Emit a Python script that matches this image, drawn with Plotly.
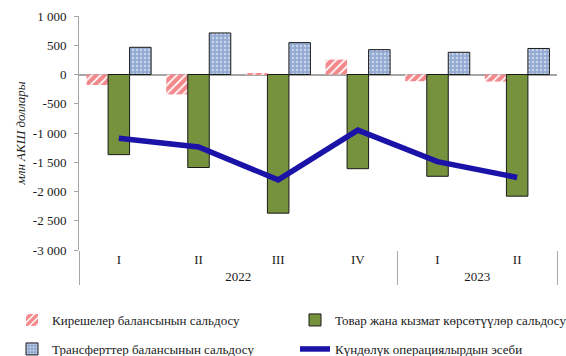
import plotly.graph_objects as go

# Quarterly balance of payments components, mln USD
years = ["2022", "2022", "2022", "2022", "2023", "2023"]
quarters = ["I", "II", "III", "IV", "I", "II"]

income_balance = [-180, -340, 15, 255, -115, -120]
goods_services_balance = [-1370, -1590, -2370, -1610, -1740, -2080]
transfers_balance = [465, 710, 545, 425, 380, 445]
current_account = [-1090, -1240, -1800, -950, -1490, -1760]

y_tickvals = [1000, 500, 0, -500, -1000, -1500, -2000, -2500, -3000]
y_ticktext = ["1 000", "500", "0", "-500", "-1 000", "-1 500", "-2 000", "-2 500", "-3 000"]

FONT = "Liberation Serif, Times New Roman, serif"
x = [years, quarters]

fig = go.Figure()
fig.add_trace(go.Bar(
    x=x, y=income_balance, name="Кирешелер балансынын сальдосу", legend="legend",
    marker=dict(color="white", line=dict(width=0),
                pattern=dict(shape="/", fgcolor="#E3121A", bgcolor="white",
                             size=6, solidity=0.7)),
))
fig.add_trace(go.Bar(
    x=x, y=goods_services_balance, name="Товар жана кызмат көрсөтүүлөр сальдосу",
    legend="legend2",
    marker=dict(color="#76923C", line=dict(color="#1a1a1a", width=1)),
))
fig.add_trace(go.Bar(
    x=x, y=transfers_balance, name="Трансферттер балансынын сальдосу", legend="legend3",
    marker=dict(color="#9DB2D6", line=dict(color="#1a1a1a", width=1),
                pattern=dict(shape=".", fgcolor="white", bgcolor="#93AAD2",
                             size=4, solidity=0.3)),
))
fig.add_trace(go.Scatter(
    x=x, y=current_account, name="Күндөлүк операциялырдын эсеби", legend="legend4",
    mode="lines", line=dict(color="#1B12A8", width=5.5),
))


def legend_box(left_px, mid_px):
    # one legend entry, placed in container pixels
    return dict(
        orientation="h", xref="container", yref="container",
        x=left_px / 566, y=1 - mid_px / 356, xanchor="left", yanchor="middle",
        font=dict(family=FONT, size=13, color="#1a1a1a"),
        itemwidth=30, bgcolor="rgba(0,0,0,0)",
    )


fig.update_layout(
    width=566, height=356,
    margin=dict(l=79, r=9, t=16, b=106, autoexpand=False),
    paper_bgcolor="white", plot_bgcolor="white",
    font=dict(family=FONT, size=13, color="#1a1a1a"),
    barmode="group", bargap=0.19, bargroupgap=0,
    showlegend=True,
    legend=legend_box(12, 320),
    legend2=legend_box(295, 320),
    legend3=legend_box(12, 349),
    legend4=legend_box(295, 349),
)
fig.update_xaxes(
    type="multicategory", showline=False, ticks="", showgrid=False,
    dividercolor="#A6A6A6", dividerwidth=1,
    tickfont=dict(family=FONT, size=13),
)
fig.update_yaxes(
    range=[-3000, 1000], tickvals=y_tickvals, ticktext=y_ticktext,
    showgrid=False, showline=True, linecolor="#A6A6A6", linewidth=1,
    ticks="outside", ticklen=4, tickcolor="#A6A6A6", ticklabelstandoff=5,
    zeroline=True, zerolinecolor="#A6A6A6", zerolinewidth=1.5,
    tickfont=dict(family=FONT, size=13),
    title=dict(text="<i>млн АКШ доллары</i>", font=dict(family=FONT, size=13), standoff=4),
)

fig.write_html("out.html")
